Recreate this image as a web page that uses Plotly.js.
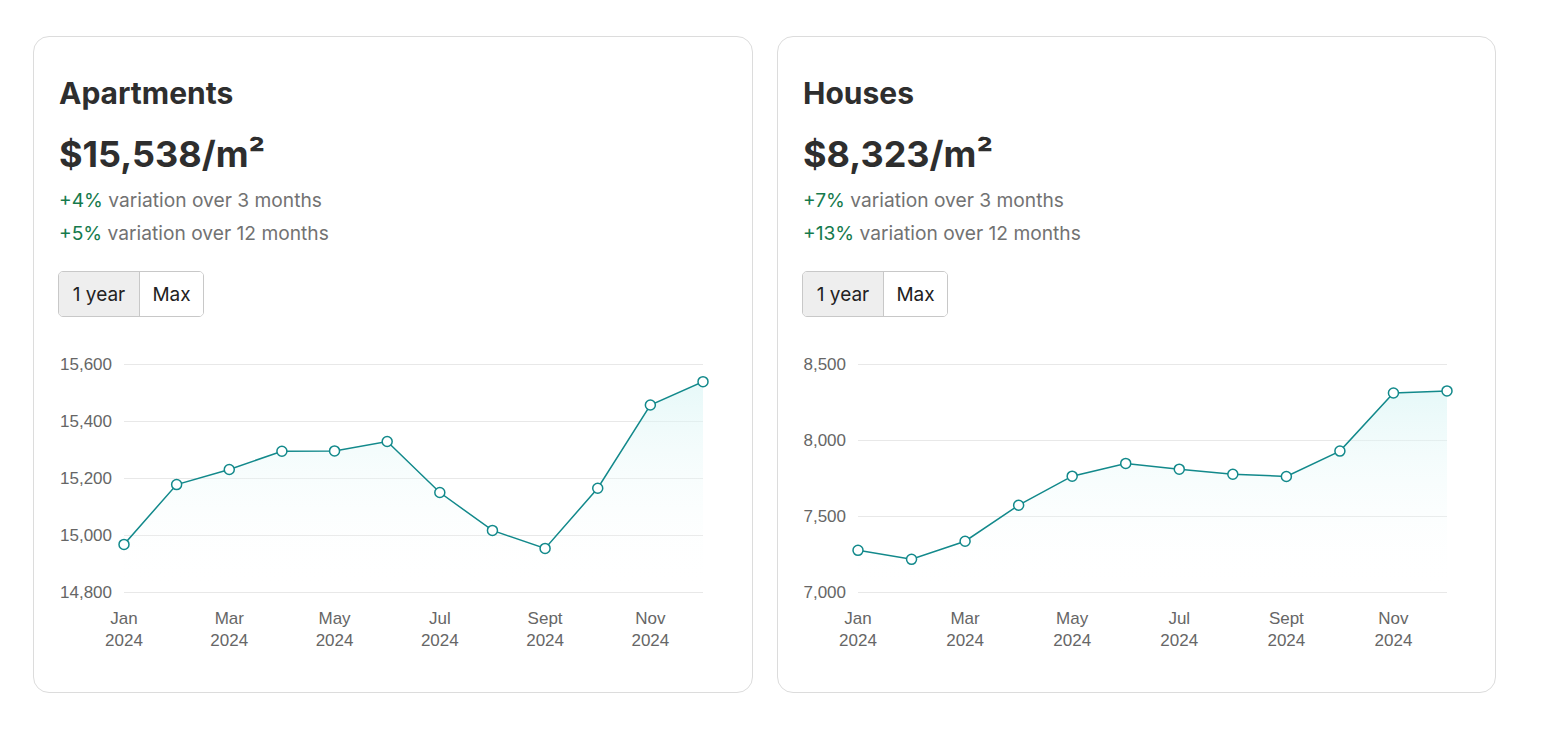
<!DOCTYPE html>
<html>
<head>
<meta charset="utf-8">
<script src="https://cdn.plot.ly/plotly-3.0.1.min.js"></script>
<style>
  html, body { margin: 0; padding: 0; background: #fff; width: 1551px; height: 746px; overflow: hidden; }
  body { font-family: Inter, "Noto Sans", sans-serif; position: relative; }
  .card { position: absolute; top: 36px; height: 657px; border: 1px solid #dcdcdc; border-radius: 16px; box-sizing: border-box; background: #fff; }
  .title { position: absolute; left: 25px; top: 41px; font-size: 30px; font-weight: 700; color: #2e2e2e; line-height: 1; }
  .price { position: absolute; left: 25px; top: 99px; font-size: 36px; font-weight: 700; color: #2e2e2e; line-height: 1; white-space: nowrap; }
  .var { position: absolute; left: 25px; font-size: 19.2px; color: #727272; line-height: 1; white-space: nowrap; }
  .var .up { color: #157a4c; }
  .btns { position: absolute; left: 24px; top: 234px; height: 46px; display: flex; border: 1px solid #c8c8c8; border-radius: 5px; overflow: hidden; box-sizing: border-box; }
  .btns div { font-size: 19px; color: #222; display: flex; align-items: center; justify-content: center; }
  .btns .on { background: #eeeeee; width: 80px; border-right: 1px solid #c8c8c8; }
  .btns .off { background: #fff; width: 63px; }
  .plot { position: absolute; top: 304px; left: 0px; width: 717px; height: 350px; }
</style>
</head>
<body>
<div class="card" style="left:33px; width:720px;">
  <div class="title">Apartments</div>
  <div class="price">$15,538/m²</div>
  <div class="var" style="top:154px;"><span class="up">+4%</span> variation over 3 months</div>
  <div class="var" style="top:187px;"><span class="up">+5%</span> variation over 12 months</div>
  <div class="btns"><div class="on">1 year</div><div class="off">Max</div></div>
  <div class="plot" id="aptPlot"></div>
</div>
<div class="card" style="left:777px; width:719px;">
  <div class="title">Houses</div>
  <div class="price">$8,323/m²</div>
  <div class="var" style="top:154px;"><span class="up">+7%</span> variation over 3 months</div>
  <div class="var" style="top:187px;"><span class="up">+13%</span> variation over 12 months</div>
  <div class="btns"><div class="on">1 year</div><div class="off">Max</div></div>
  <div class="plot" id="housePlot"></div>
</div>
<script>
const months = ['Jan 2024','Feb 2024','Mar 2024','Apr 2024','May 2024','Jun 2024','Jul 2024','Aug 2024','Sep 2024','Oct 2024','Nov 2024','Dec 2024'];
const tickMonths = ['Jan 2024','Mar 2024','May 2024','Jul 2024','Sep 2024','Nov 2024'];
const tickLabels = ['Jan<br>2024','Mar<br>2024','May<br>2024','Jul<br>2024','Sept<br>2024','Nov<br>2024'];
const apartmentValues = [14967, 15177, 15230, 15294, 15295, 15328, 15149, 15016, 14953, 15164, 15456, 15538];
const houseValues = [7274, 7215, 7334, 7571, 7762, 7846, 7808, 7775, 7760, 7927, 8309, 8323];
const apartmentTicks = [14800, 15000, 15200, 15400, 15600];
const houseTicks = [7000, 7500, 8000, 8500];

const lineColor = '#12898b';
const tickFont = {family: '"Liberation Sans", Arial, sans-serif', size: 17, color: '#666666'};

function draw(id, values, yticks, leftMargin) {
  const yMin = yticks[0], yMax = yticks[yticks.length - 1];
  const padPx = 4;
  const pad = (yMax - yMin) / 228 * padPx;
  const trace = {
    x: months, y: values, type: 'scatter', mode: 'lines+markers',
    line: {color: lineColor, width: 1.5},
    marker: {size: 10, color: '#ffffff', line: {color: lineColor, width: 1.5}},
    fill: 'tozeroy',
    fillgradient: {type: 'vertical', start: yMin, stop: Math.max(...values),
      colorscale: [[0, 'rgba(255,255,255,0)'], [1, 'rgba(214,244,244,0.6)']]},
    cliponaxis: false, hoverinfo: 'skip'
  };
  const layout = {
    width: 717, height: 350,
    margin: {l: leftMargin, r: 48, t: 23 - padPx, b: 99 - padPx},
    paper_bgcolor: 'rgba(0,0,0,0)', plot_bgcolor: 'rgba(0,0,0,0)',
    showlegend: false,
    xaxis: {type: 'category', categoryorder: 'array', categoryarray: months,
      range: [0, 11], tickmode: 'array', tickvals: tickMonths, ticktext: tickLabels,
      showgrid: false, zeroline: false, showline: false, ticks: '', ticklabelstandoff: 14 - padPx,
      tickfont: tickFont, fixedrange: true},
    yaxis: {range: [yMin - pad, yMax + pad], tickmode: 'array', tickvals: yticks,
      tickformat: ',d', showgrid: true, gridcolor: '#e8e8e8', gridwidth: 1,
      zeroline: false, showline: false, ticks: '', ticklabelstandoff: 11,
      tickfont: tickFont, fixedrange: true}
  };
  Plotly.newPlot(id, [trace], layout, {displayModeBar: false, staticPlot: true});
}
draw('aptPlot', apartmentValues, apartmentTicks, 90);
draw('housePlot', houseValues, houseTicks, 80);
</script>
</body>
</html>
